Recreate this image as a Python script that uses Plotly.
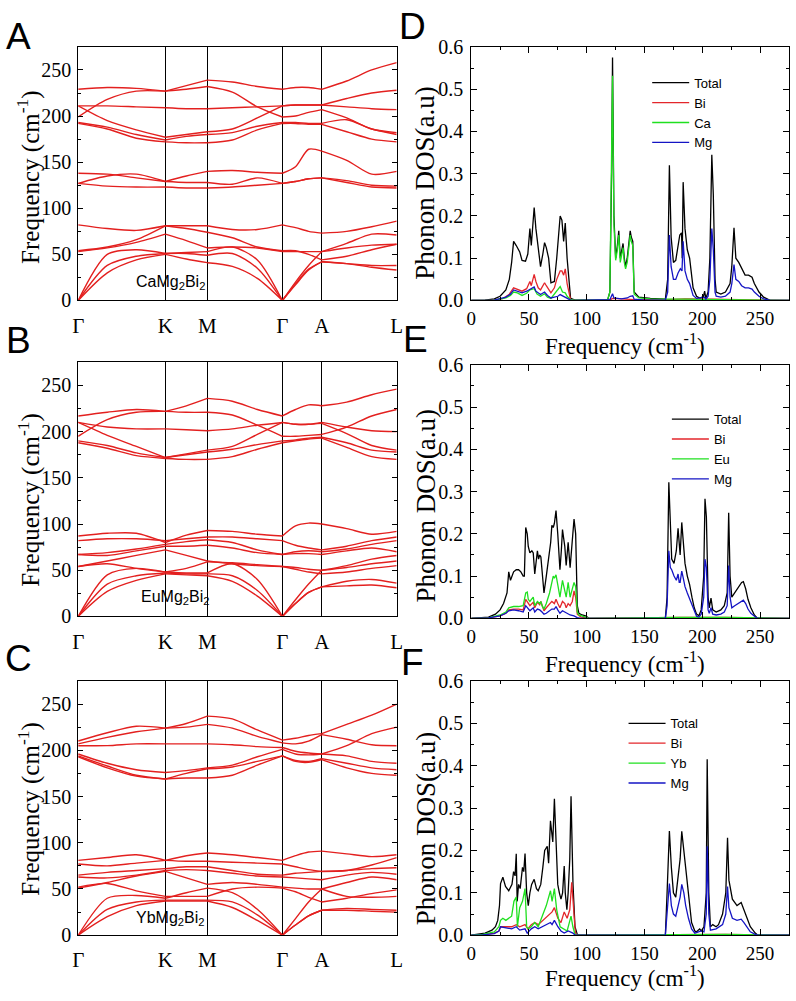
import numpy as np
import plotly.graph_objects as go

W, H = 796, 1001

# ---------------- high-symmetry path ----------------
K_LABELS = ["Γ", "K", "M", "Γ", "A", "L"]
K_POS = [0, 88.7, 131.3, 207.7, 247.7, 324]
SEG_NPTS = [4, 3, 4, 4, 4]   # sample points per segment (incl. ends)

# each band: values at Γ,g1,g2,K,k1,M,m1,m2,Γ,a1,a2,A,l1,l2,L  (cm^-1)
CA_HIGH = [
    [229, 231, 230, 227, 233, 239, 237, 232, 229, 231, 231, 229, 238, 250, 258],
    [199, 218, 227, 227, 229, 232, 226, 210, 199, 200, 204, 207, 198, 186, 182],
    [211, 211, 210, 209, 208, 208, 209, 210, 211, 212, 212, 212, 219, 225, 228],
    [211, 195, 185, 177, 180, 183, 186, 198, 211, 212, 212, 212, 210, 208, 207],
    [193, 188, 180, 174, 178, 180, 182, 189, 193, 193, 192, 192, 196, 186, 180],
    [192, 186, 176, 172, 171, 171, 174, 185, 192, 192, 191, 191, 183, 175, 172],
]
CA_MID = [
    [138, 137, 133, 129, 135, 140, 141, 139, 138, 145, 164, 162, 152, 137, 140],
    [127, 135, 137, 129, 128, 128, 126, 133, 127, 129, 132, 133, 130, 125, 124],
    [127, 124, 123, 123, 122, 122, 123, 125, 127, 129, 132, 133, 128, 123, 122],
]
CA_LOW = [
    [82, 78, 76, 81, 81, 81, 77, 77, 82, 79, 75, 73, 75, 80, 86],
    [54, 58, 66, 81, 78, 74, 68, 58, 54, 54, 50, 44, 48, 55, 61],
    [53, 57, 63, 72, 65, 57, 58, 57, 53, 53, 53, 53, 57, 60, 61],
    [0, 50, 55, 51, 52, 53, 58, 44, 0, 20, 38, 53, 62, 72, 71],
    [0, 38, 48, 51, 51, 49, 51, 35, 0, 18, 34, 42, 40, 38, 38],
    [0, 30, 44, 50, 45, 41, 37, 24, 0, 17, 33, 42, 40, 36, 33],
]
EU_HIGH = [
    [217, 221, 224, 222, 228, 236, 233, 224, 217, 224, 229, 228, 232, 240, 246],
    [195, 213, 221, 222, 221, 221, 218, 207, 195, 195, 196, 197, 205, 217, 224],
    [210, 205, 203, 203, 202, 201, 203, 207, 210, 208, 208, 210, 205, 201, 200],
    [210, 196, 184, 172, 176, 180, 184, 197, 210, 208, 208, 209, 198, 185, 180],
    [190, 185, 177, 172, 175, 178, 181, 186, 190, 191, 193, 194, 188, 180, 178],
    [188, 182, 174, 171, 170, 170, 173, 181, 188, 190, 192, 193, 183, 173, 170],
]
EU_LOW = [
    [87, 90, 90, 80, 88, 93, 92, 89, 87, 98, 101, 100, 95, 89, 92],
    [82, 84, 84, 82, 84, 86, 86, 84, 82, 77, 74, 72, 76, 82, 86],
    [67, 69, 73, 78, 81, 83, 80, 72, 67, 70, 71, 70, 73, 78, 82],
    [67, 66, 71, 76, 76, 77, 74, 69, 67, 68, 68, 67, 71, 74, 70],
    [54, 60, 66, 72, 66, 60, 57, 55, 54, 53, 51, 50, 55, 62, 66],
    [54, 57, 52, 48, 52, 59, 58, 56, 54, 51, 48, 46, 48, 52, 55],
    [0, 45, 52, 48, 47, 47, 57, 40, 0, 18, 35, 50, 53, 57, 60],
    [0, 35, 44, 47, 46, 46, 44, 28, 0, 14, 26, 32, 38, 40, 36],
    [0, 27, 39, 46, 45, 44, 38, 22, 0, 14, 26, 32, 33, 34, 31],
]
YB_HIGH = [
    [210, 219, 226, 224, 229, 237, 234, 222, 211, 213, 216, 218, 228, 238, 250],
    [207, 214, 220, 224, 225, 228, 224, 215, 208, 207, 210, 217, 212, 206, 205],
    [205, 205, 207, 207, 207, 207, 206, 204, 203, 199, 197, 196, 205, 218, 225],
    [196, 186, 179, 176, 178, 181, 184, 193, 201, 196, 195, 196, 194, 188, 186],
    [194, 183, 173, 169, 175, 180, 182, 188, 194, 189, 188, 191, 186, 181, 179],
    [193, 181, 172, 169, 170, 170, 173, 184, 194, 188, 187, 190, 181, 175, 173],
]
YB_LOW = [
    [81, 84, 87, 81, 86, 89, 87, 84, 81, 86, 90, 91, 88, 85, 87],
    [77, 75, 78, 81, 80, 80, 79, 78, 77, 74, 71, 69, 70, 76, 84],
    [65, 68, 70, 72, 74, 74, 70, 66, 65, 67, 68, 69, 70, 72, 73],
    [63, 62, 65, 70, 71, 70, 67, 64, 63, 62, 61, 60, 65, 68, 66],
    [52, 56, 48, 42, 42, 42, 50, 52, 51, 47, 41, 36, 40, 45, 49],
    [51, 57, 64, 69, 62, 55, 57, 55, 52, 51, 50, 50, 57, 63, 60],
    [0, 40, 43, 40, 46, 51, 46, 28, 0, 18, 36, 50, 42, 41, 42],
    [0, 28, 36, 38, 38, 38, 36, 22, 0, 11, 21, 27, 29, 28, 27],
    [0, 20, 32, 37, 37, 37, 30, 16, 0, 11, 21, 27, 27, 26, 25],
]

# ---------------- phonon DOS (freq cm^-1, DOS a.u.) ----------------
D_TOTAL = [(0,0),(12,0.001),(20,0.004),(25,0.01),(30,0.025),(33,0.05),(35,0.09),(36.7,0.14),(39,0.13),(42,0.115),
           (44,0.095),(47,0.093),(49,0.11),(50.8,0.17),(52,0.13),(54.5,0.22),(56,0.17),(58,0.12),(60,0.08),(62,0.11),
           (63.5,0.137),(65,0.125),(67,0.1),(69,0.042),(72,0.045),(74,0.1),(77,0.2),(78.5,0.19),(80,0.14),(81.4,0.183),
           (83,0.1),(86,0.005),(90,0.001),(118,0.001),(120,0.02),(121.5,0.3),(122.3,0.575),(123.5,0.2),(125,0.1),
           (126.5,0.13),(127.7,0.165),(129,0.1),(130,0.12),(131.4,0.135),(132.5,0.1),(133.6,0.08),(135,0.1),(136.5,0.14),
           (137.6,0.165),(138.5,0.15),(139.8,0.14),(141,0.02),(145,0.008),(155,0.005),(165,0.003),(168,0.003),(170,0.05),
           (171.5,0.32),(173,0.15),(175,0.09),(177,0.095),(179,0.13),(180.5,0.155),(182,0.16),(182.6,0.1),(183.4,0.28),
           (185,0.17),(187,0.12),(189,0.1),(192,0.03),(195,0.01),(198,0.005),(201,0.01),(202,0.022),(203,0.005),(205,0.02),
           (206.5,0.1),(208.2,0.345),(209.5,0.25),(211,0.05),(212,0.02),(216,0.015),(220,0.02),(224,0.04),(225.5,0.08),
           (227.4,0.172),(229,0.1),(231.5,0.09),(234,0.075),(237,0.06),(240,0.06),(243,0.055),(245,0.04),(249,0.02),
           (253,0.008),(257,0.002),(259,0),(275,0)]
D_BI = [(0,0),(20,0.001),(28,0.005),(33,0.015),(36.7,0.03),(40,0.027),(44,0.022),(48,0.028),(50.8,0.045),(52,0.035),
        (54.5,0.062),(56,0.045),(58,0.03),(60,0.025),(63.5,0.042),(65,0.035),(67,0.025),(69,0.018),(72,0.03),(74,0.05),
        (77,0.07),(78.5,0.07),(80,0.06),(81.4,0.075),(83,0.04),(86,0.002),(90,0),(120,0.001),(122.3,0.005),(141,0.002),
        (170,0.002),(185,0.004),(210,0.003),(240,0.002),(275,0)]
D_CA = [(0,0),(20,0.001),(30,0.006),(34,0.012),(36.7,0.02),(40,0.018),(44,0.012),(48,0.017),(50.8,0.025),(54.5,0.028),
        (57,0.015),(60,0.01),(63.5,0.016),(66,0.008),(69,0.005),(72,0.015),(75,0.025),(77,0.033),(79,0.02),(81.4,0.018),
        (83,0.01),(86,0.002),(90,0.001),(118,0.001),(120,0.02),(121.5,0.3),(122.3,0.532),(123.5,0.18),(125,0.095),
        (126.5,0.12),(127.7,0.155),(129,0.09),(130,0.11),(131.4,0.125),(132.5,0.09),(133.6,0.075),(135,0.09),
        (136.5,0.13),(137.6,0.155),(138.5,0.14),(139.8,0.13),(141,0.015),(145,0.006),(155,0.004),(165,0.003),
        (170,0.003),(185,0.003),(210,0.002),(240,0.001),(275,0)]
D_MG = [(0,0),(20,0.001),(30,0.008),(34,0.015),(36.7,0.025),(40,0.022),(44,0.018),(48,0.022),(50.8,0.026),(54.5,0.032),
        (56,0.022),(58,0.018),(60,0.014),(63.5,0.02),(66,0.012),(69,0.006),(72,0.008),(75,0.01),(77,0.014),(80,0.01),
        (83,0.006),(86,0.001),(90,0),(120,0.002),(122.3,0.016),(123.5,0.006),(130,0.004),(135,0.006),(137.6,0.01),
        (139.8,0.011),(141,0.003),(150,0.001),(168,0.001),(170,0.02),(171.5,0.155),(173,0.08),(175,0.05),(177,0.05),
        (179,0.065),(181,0.075),(182.4,0.07),(183.4,0.14),(185,0.07),(187,0.05),(189,0.04),(192,0.012),(195,0.005),
        (202,0.008),(203,0.003),(205,0.01),(206.5,0.05),(208.2,0.17),(209.5,0.12),(211,0.02),(212,0.01),(216,0.008),
        (220,0.01),(224,0.02),(225.5,0.04),(227.4,0.085),(229,0.05),(231.5,0.045),(234,0.035),(237,0.03),(240,0.03),
        (243,0.027),(245,0.02),(249,0.01),(253,0.004),(257,0.001),(259,0),(275,0)]

E_TOTAL = [(0,0),(10,0.001),(15,0.003),(21,0.01),(25,0.02),(28,0.035),(31,0.06),(32.5,0.11),(34,0.09),(36.7,0.11),
           (39,0.115),(41,0.115),(43,0.11),(45,0.1),(46,0.1),(47.2,0.215),(48.5,0.2),(49.4,0.17),(50.8,0.155),(52.5,0.16),
           (53.7,0.155),(55,0.105),(57.3,0.16),(58.3,0.14),(59.3,0.15),(60.3,0.145),(61.3,0.11),(63,0.06),(65,0.1),
           (66.5,0.13),(67.8,0.165),(68.8,0.18),(69.8,0.22),(71,0.215),(72,0.225),(73.4,0.255),(74.9,0.2),(76.8,0.115),
           (78,0.16),(79,0.21),(80,0.19),(81,0.17),(82.2,0.125),(83.9,0.18),(85.6,0.12),(87.5,0.19),(89,0.235),(90.4,0.2),
           (91.8,0.03),(93.2,0.012),(96,0.008),(98.9,0.006),(100.3,0.003),(102,0),(168,0),(169.5,0.05),(171,0.322),
           (172.3,0.2),(173.5,0.14),(175.5,0.13),(177.5,0.16),(179,0.213),(180,0.16),(180.8,0.15),(182.2,0.227),
           (183.5,0.19),(185,0.13),(187,0.1),(189,0.08),(191,0.05),(193,0.025),(195,0.01),(197,0.006),(199,0.02),
           (201.2,0.1),(202.3,0.283),(203.5,0.24),(205,0.05),(206,0.025),(207.5,0.048),(209,0.02),(212,0.015),(216,0.02),
           (219,0.03),(221.5,0.06),(222.8,0.25),(224,0.1),(225.5,0.05),(228,0.06),(231,0.07),(234,0.085),(235.5,0.087),
           (237.5,0.07),(239.5,0.045),(242,0.025),(245,0.008),(247,0.002),(249,0),(275,0)]
E_BI = [(0,0),(15,0.001),(25,0.006),(30,0.012),(32.5,0.02),(36.7,0.022),(41,0.022),(45,0.02),(47.2,0.045),(49.4,0.035),
        (50.8,0.03),(53.7,0.038),(55,0.025),(57.3,0.038),(59.3,0.032),(60.3,0.04),(61.3,0.03),(63,0.018),(65,0.025),
        (67.8,0.035),(69.8,0.04),(72,0.035),(73.4,0.045),(74.9,0.035),(76.8,0.025),(79,0.04),(81,0.035),(82.2,0.025),
        (83.9,0.035),(85.6,0.03),(87.5,0.04),(89,0.065),(90.4,0.05),(91.8,0.01),(95,0.003),(100,0.002),(102,0),
        (180,0.002),(220,0.002),(275,0)]
E_EU = [(0,0),(15,0.001),(25,0.008),(30,0.015),(32.5,0.025),(36.7,0.028),(41,0.028),(45,0.03),(47.2,0.06),(48.5,0.062),
        (49.4,0.045),(50.8,0.04),(53.7,0.05),(55,0.03),(57.3,0.04),(59.3,0.035),(60.3,0.04),(61.3,0.03),(63,0.022),
        (65,0.035),(67.8,0.06),(69.8,0.085),(71,0.1),(72,0.095),(73.4,0.103),(74.9,0.08),(76.8,0.05),(79,0.09),(80,0.08),
        (81,0.065),(82.2,0.05),(83.9,0.085),(85.6,0.05),(87.5,0.07),(89,0.085),(90.4,0.075),(91.8,0.015),(93.2,0.008),
        (98.9,0.004),(102,0),(180,0.002),(220,0.002),(275,0)]
E_MG = [(0,0),(15,0.001),(25,0.006),(30,0.012),(32.5,0.018),(36.7,0.02),(41,0.018),(45,0.015),(47.2,0.03),(49.4,0.022),
        (50.8,0.018),(53.7,0.025),(55,0.015),(57.3,0.022),(59.3,0.02),(61.3,0.015),(63,0.01),(65,0.012),(67.8,0.018),
        (69.8,0.022),(72,0.022),(73.4,0.028),(74.9,0.02),(76.8,0.012),(79,0.018),(81,0.015),(83.9,0.012),(85.6,0.008),
        (89,0.006),(91.8,0.002),(95,0),(168,0),(169.5,0.03),(171,0.16),(172.3,0.12),(173.5,0.115),(175.5,0.1),
        (177.5,0.09),(179,0.105),(180,0.085),(180.8,0.085),(182.2,0.112),(183.5,0.095),(185,0.075),(187,0.06),
        (189,0.045),(191,0.03),(193,0.015),(195,0.005),(197,0.003),(199,0.01),(201.2,0.05),(202.3,0.14),(203.5,0.12),
        (205,0.02),(206,0.012),(207.5,0.025),(209,0.01),(212,0.008),(216,0.01),(219,0.015),(221.5,0.03),(222.8,0.125),
        (224,0.05),(225.5,0.025),(228,0.03),(231,0.035),(234,0.042),(235.5,0.043),(237.5,0.035),(239.5,0.022),
        (242,0.012),(245,0.004),(247,0.001),(249,0),(275,0)]

F_TOTAL = [(0,0),(7,0.002),(12,0.005),(18,0.012),(21,0.02),(23,0.035),(24.5,0.07),(25.4,0.122),(27.4,0.137),
           (29.7,0.115),(32.5,0.105),(35.3,0.12),(36.7,0.15),(38,0.14),(39,0.192),(39.8,0.08),(41,0.12),(42.4,0.11),
           (44.4,0.16),(45.5,0.15),(46.6,0.193),(48,0.1),(49.4,0.07),(50.8,0.1),(52.3,0.12),(54.5,0.132),(56.5,0.11),
           (58,0.105),(60.2,0.12),(62,0.16),(63.6,0.2),(65.8,0.21),(67,0.17),(68.6,0.27),(69.8,0.23),(70.6,0.22),
           (72,0.322),(73.4,0.2),(74.9,0.12),(76.3,0.1),(77.7,0.085),(79.1,0.1),(80.5,0.163),(81.4,0.1),(82.8,0.06),
           (83.9,0.1),(85.3,0.18),(86.4,0.328),(88.1,0.12),(89.8,0.02),(91.8,0.002),(93,0),(168,0),(169.5,0.1),
           (171.5,0.246),(173.2,0.16),(175,0.1),(177,0.09),(179.4,0.15),(180.8,0.18),(182.2,0.245),(184,0.2),
           (185.6,0.16),(188,0.09),(190.7,0.03),(193.5,0.01),(195,0.008),(197.7,0.015),(199,0.01),(201.4,0.02),
           (203.4,0.1),(204.2,0.415),(205.6,0.1),(207,0.02),(209,0.025),(211.9,0.02),(214,0.025),(217.5,0.05),
           (220.3,0.1),(221.8,0.23),(223,0.13),(226,0.085),(230,0.07),(233.6,0.077),(236,0.06),(238.7,0.04),
           (241.5,0.02),(245.8,0.005),(248,0),(275,0)]
F_BI = [(0,0),(10,0.001),(20,0.005),(24,0.01),(25.4,0.02),(30,0.02),(35,0.02),(39,0.025),(42,0.02),(46.6,0.025),
        (49,0.015),(52,0.025),(55,0.03),(58,0.025),(62,0.035),(66,0.045),(68.6,0.05),(70,0.055),(72,0.065),(75,0.04),
        (77.7,0.03),(80.5,0.055),(83,0.04),(85.3,0.06),(87,0.125),(88.5,0.06),(90,0.01),(91,0),(180,0.002),(220,0.002),
        (275,0)]
F_YB = [(0,0),(10,0.002),(20,0.008),(24,0.02),(25.4,0.035),(27.4,0.04),(30,0.035),(35,0.045),(37,0.08),(39,0.09),
        (40,0.02),(42,0.065),(44.4,0.08),(46.6,0.11),(48,0.02),(49.4,0.015),(52,0.02),(55,0.03),(58,0.02),(62,0.05),
        (65,0.07),(68.6,0.105),(70,0.08),(72,0.11),(74,0.06),(77,0.02),(80,0.015),(83,0.01),(86.4,0.045),(88,0.02),
        (90,0),(180,0.002),(220,0.002),(275,0)]
F_MG = [(0,0),(10,0.001),(20,0.004),(24,0.01),(25.4,0.02),(30,0.018),(35,0.015),(39,0.02),(42,0.012),(46.6,0.015),
        (48.5,0.005),(52,0.015),(55,0.02),(58,0.015),(62,0.02),(66,0.025),(68.6,0.03),(70,0.025),(72,0.035),(75,0.02),
        (77.7,0.01),(80.5,0.005),(84,0.01),(88,0.005),(90,0),(168,0),(169.5,0.05),(171.5,0.122),(173.2,0.07),(175,0.05),
        (177,0.045),(179.4,0.075),(180.8,0.09),(182.2,0.12),(184,0.1),(185.6,0.07),(188,0.04),(190.7,0.015),
        (193.5,0.005),(199,0.01),(201.4,0.008),(203.4,0.05),(204.2,0.21),(205.6,0.05),(207,0.012),(211.9,0.015),
        (217.5,0.025),(220.3,0.05),(221.8,0.115),(223,0.065),(226,0.04),(230,0.035),(233.6,0.038),(236,0.03),
        (238.7,0.018),(241.5,0.008),(245.8,0.002),(248,0),(275,0)]

DOS_COLORS = ["#000000", "#e3262b", "#1fe01f", "#1414c4"]
BAND_COLOR = "#e3201f"

SERIF = "Liberation Serif, Times New Roman, serif"
SANS = "Liberation Sans, Arial, sans-serif"


def px(x):
    return x / W


def py(y):
    return 1 - y / H


fig = go.Figure()


def band_xy(vals):
    xs, ys = [], []
    start = 0
    for i, n in enumerate(SEG_NPTS):
        seg = vals[start:start + n]
        kx = np.linspace(K_POS[i], K_POS[i + 1], n)
        xs += list(kx) + [None]
        ys += list(seg) + [None]
        start += n - 1
    return xs, ys


def add_bands(bands, xa, ya):
    for b in bands:
        x, y = band_xy(b)
        fig.add_trace(go.Scatter(x=x, y=y, mode="lines", xaxis=xa, yaxis=ya,
                                 line=dict(color=BAND_COLOR, width=1.4, shape="spline", smoothing=0.8),
                                 showlegend=False, hoverinfo="skip", connectgaps=False))


add_bands(CA_HIGH + CA_MID + CA_LOW, "x", "y")
add_bands(EU_HIGH + EU_LOW, "x3", "y3")
add_bands(YB_HIGH + YB_LOW, "x5", "y5")


def add_dos(series, names, xa, ya, leg):
    for s, name, col in zip(series, names, DOS_COLORS):
        f = [p[0] for p in s]
        v = [p[1] for p in s]
        fig.add_trace(go.Scatter(x=f, y=v, mode="lines", xaxis=xa, yaxis=ya, name=name,
                                 line=dict(color=col, width=1.3), legend=leg, showlegend=True,
                                 hoverinfo="skip"))


add_dos([D_TOTAL, D_BI, D_CA, D_MG], ["Total", "Bi", "Ca", "Mg"], "x2", "y2", "legend")
add_dos([E_TOTAL, E_BI, E_EU, E_MG], ["Total", "Bi", "Eu", "Mg"], "x4", "y4", "legend2")
add_dos([F_TOTAL, F_BI, F_YB, F_MG], ["Total", "Bi", "Yb", "Mg"], "x6", "y6", "legend3")

LEFT_X = [73.3, 396.7]
RIGHT_X = [472.3, 795]
LEFT_ROWS = [[36.7, 296], [359.3, 619], [685, 945]]
RIGHT_ROWS = [[36.7, 296], [361.7, 621], [685, 945]]

layout = dict(width=W, height=H, margin=dict(l=0, r=0, t=0, b=0, pad=0),
              paper_bgcolor="white", plot_bgcolor="white", showlegend=True)

for i in range(3):
    xl = "xaxis" if i == 0 else f"xaxis{2 * i + 1}"
    yl = "yaxis" if i == 0 else f"yaxis{2 * i + 1}"
    xr = f"xaxis{2 * i + 2}"
    yr = f"yaxis{2 * i + 2}"
    ylname = "y" if i == 0 else f"y{2 * i + 1}"
    xlname = "x" if i == 0 else f"x{2 * i + 1}"
    top, bot = LEFT_ROWS[i]
    layout[xl] = dict(domain=[px(LEFT_X[0]), px(LEFT_X[1])], anchor=ylname, range=[0, 324],
                      tickmode="array", tickvals=K_POS, ticktext=K_LABELS, ticks="",
                      showgrid=True, gridcolor="black", gridwidth=1, zeroline=False,
                      showline=True, mirror=True, linecolor="black", linewidth=1,
                      tickfont=dict(family=SERIF, size=21, color="black"), ticklabelstandoff=6)
    layout[yl] = dict(domain=[py(bot), py(top)], anchor=xlname, range=[0, 275],
                      tickmode="linear", tick0=0, dtick=50, ticks="inside", ticklen=5,
                      tickcolor="black", minor=dict(dtick=25, ticks="inside", ticklen=3, tickcolor="black"),
                      showgrid=False, zeroline=False, showline=True, mirror="ticks",
                      linecolor="black", linewidth=1,
                      tickfont=dict(family=SERIF, size=20, color="black"), ticklabelstandoff=2)
    top, bot = RIGHT_ROWS[i]
    xrname = f"x{2 * i + 2}"
    yrname = f"y{2 * i + 2}"
    layout[xr] = dict(domain=[px(RIGHT_X[0]), px(RIGHT_X[1])], anchor=yrname, range=[0, 275],
                      tickmode="linear", tick0=0, dtick=50, ticks="inside", ticklen=6, tickcolor="black",
                      minor=dict(dtick=25, ticks="inside", ticklen=3, tickcolor="black"),
                      showgrid=False, zeroline=False, showline=True, mirror="ticks",
                      linecolor="black", linewidth=1,
                      tickfont=dict(family=SERIF, size=19, color="black"), ticklabelstandoff=1)
    layout[yr] = dict(domain=[py(bot), py(top)], anchor=xrname, range=[0, 0.6],
                      tickmode="linear", tick0=0, dtick=0.1, tickformat=".1f",
                      ticks="inside", ticklen=6, tickcolor="black",
                      minor=dict(dtick=0.05, ticks="inside", ticklen=3, tickcolor="black"),
                      showgrid=False, zeroline=False, showline=True, mirror="ticks",
                      linecolor="black", linewidth=1,
                      tickfont=dict(family=SERIF, size=20, color="black"), ticklabelstandoff=3)

# legend top-left corners (px)
LEG_POS = [(651, 58), (671, 402), (627, 713)]
for i, (lx, ly) in enumerate(LEG_POS):
    key = "legend" if i == 0 else f"legend{i + 1}"
    layout[key] = dict(x=px(lx), y=py(ly), xanchor="left", yanchor="top", bgcolor="rgba(0,0,0,0)",
                       font=dict(family=SANS, size=13, color="black"), borderwidth=0,
                       tracegroupgap=0, itemwidth=37)

fig.update_layout(**layout)

ann = []
# panel letters
for letter, (lx, ly) in zip("ABCDEF", [(13, 26), (13, 337), (13, 662), (413, 16), (416, 336), (413, 666)]):
    ann.append(dict(text=letter, x=px(lx), y=py(ly), xref="paper", yref="paper", showarrow=False,
                    xanchor="center", yanchor="middle", font=dict(family=SANS, size=37, color="black")))
# compound labels
for t, (lx, ly) in zip(["CaMg<sub>2</sub>Bi<sub>2</sub>", "EuMg<sub>2</sub>Bi<sub>2</sub>", "YbMg<sub>2</sub>Bi<sub>2</sub>"],
                       [(166.7, 278), (172.5, 600), (167.5, 928)]):
    ann.append(dict(text=t, x=px(lx), y=py(ly), xref="paper", yref="paper", showarrow=False,
                    xanchor="center", yanchor="middle", font=dict(family=SANS, size=16, color="black")))
# left y titles
for ly in [170, 500, 816]:
    ann.append(dict(text="Frequency (cm<sup>-1</sup>)", x=px(23), y=py(ly), xref="paper", yref="paper",
                    showarrow=False, textangle=-90, xanchor="center", yanchor="middle",
                    font=dict(family=SERIF, size=25, color="black")))
# right y titles
for ly in [176, 506, 836]:
    ann.append(dict(text="Phonon DOS(a.u)", x=px(426), y=py(ly), xref="paper", yref="paper",
                    showarrow=False, textangle=-90, xanchor="center", yanchor="middle",
                    font=dict(family=SERIF, size=27, color="black")))
# right x titles
for ly in [341, 666, 987]:
    ann.append(dict(text="Frequency (cm<sup>-1</sup>)", x=px(628), y=py(ly), xref="paper", yref="paper",
                    showarrow=False, xanchor="center", yanchor="middle",
                    font=dict(family=SERIF, size=23, color="black")))
fig.update_layout(annotations=ann)

fig.write_html("out.html", config={"displayModeBar": False},
               post_script="document.body.style.margin='0px';document.body.style.padding='0px';"
                           "document.documentElement.style.overflow='hidden';")
